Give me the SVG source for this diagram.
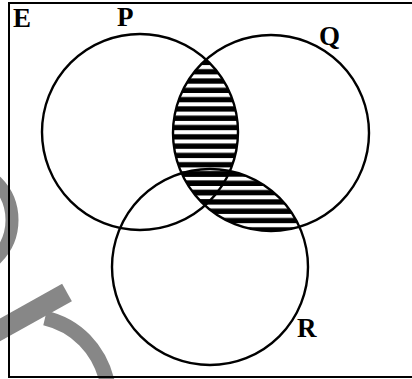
<svg xmlns="http://www.w3.org/2000/svg" width="412" height="379" viewBox="0 0 412 379">
  <style>
    .set { fill: none; stroke: #000; stroke-width: 2.4; }
    .frame { fill: none; stroke: #000; stroke-width: 2; }
    .lbl { font-family: "Liberation Serif", "Times New Roman", serif; font-weight: bold; font-size: 27px; fill: #000; }
    .wm { fill: none; stroke: #878787; }
  </style>
  <defs>
    <pattern id="stripes" patternUnits="userSpaceOnUse" x="0" y="0" width="412" height="9.3">
      <rect x="0" y="4" width="412" height="5.6" fill="#000"/>
    </pattern>
    <clipPath id="clipQ"><circle cx="271" cy="133" r="98"/></clipPath>
  </defs>
  <rect width="412" height="379" fill="#fff"/>

  <!-- watermark -->
  <g id="watermark">
    <circle class="wm" cx="-42" cy="220" r="54" stroke-width="13"/>
    <line class="wm" x1="-20" y1="341" x2="67" y2="292.5" stroke-width="20"/>
    <path class="wm" d="M 45 318 C 75 325, 100 348, 108 385" stroke-width="15"/>
  </g>

  <!-- shaded regions: (P ∩ Q) ∪ (Q ∩ R) -->
  <g id="shading" clip-path="url(#clipQ)">
    <circle cx="140" cy="132" r="98" fill="url(#stripes)"/>
    <circle cx="210" cy="267" r="98" fill="url(#stripes)"/>
  </g>

  <g id="E">
    <path class="frame" d="M 412 3 L 9 3 L 9 377 L 412 377"/>
    <text class="lbl" x="13" y="27">E</text>
  </g>
  <g id="P">
    <circle class="set" cx="140" cy="132" r="98"/>
    <text class="lbl" x="117" y="26">P</text>
  </g>
  <g id="Q">
    <circle class="set" cx="271" cy="133" r="98"/>
    <text class="lbl" x="319" y="45">Q</text>
  </g>
  <g id="R">
    <circle class="set" cx="210" cy="267" r="98"/>
    <text class="lbl" x="297" y="337">R</text>
  </g>
  <g id="connectors"/>
</svg>
